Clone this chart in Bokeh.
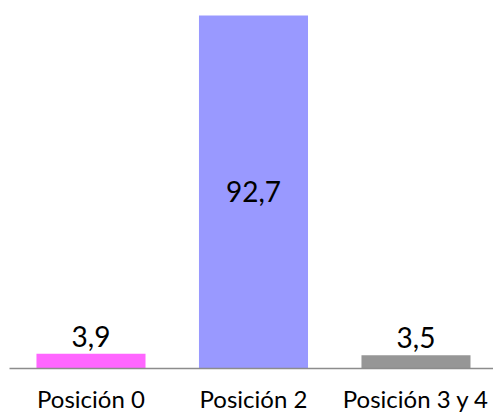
from bokeh.plotting import figure
from bokeh.models import ColumnDataSource, Range1d, FixedTicker
from bokeh.core.properties import value
from bokeh.embed import file_html
from bokeh.resources import INLINE

categories = ["Posición 0", "Posición 2", "Posición 3 y 4"]
values = [3.9, 92.7, 3.5]
colors = ["#FF66FF", "#9999FF", "#969696"]
labels = ["3,9", "92,7", "3,5"]
inside = [False, True, False]

FONT = "Lato"

xs = list(range(len(categories)))
src_bars = ColumnDataSource(dict(x=xs, top=values, color=colors))
out_src = ColumnDataSource(dict(
    x=[x for x, i in zip(xs, inside) if not i],
    y=[v for v, i in zip(values, inside) if not i],
    t=[l for l, i in zip(labels, inside) if not i]))
in_src = ColumnDataSource(dict(
    x=[x for x, i in zip(xs, inside) if i],
    y=[v / 2 for v, i in zip(values, inside) if i],
    t=[l for l, i in zip(labels, inside) if i]))

p = figure(width=493, height=415,
           x_range=Range1d(-0.5015, 2.477), y_range=Range1d(0, 94.53),
           output_backend="svg", toolbar_location=None,
           min_border_top=8, min_border_left=9, min_border_right=0, min_border_bottom=0)
p.outline_line_color = None
p.grid.grid_line_color = None
p.yaxis.visible = False
p.background_fill_color = "white"
p.border_fill_color = "white"

p.vbar(x="x", top="top", width=0.671, bottom=0, color="color", line_color=None, source=src_bars)

p.text(x="x", y="y", text="t", source=out_src, text_align="center", text_baseline="bottom",
       y_offset=-7, text_font=value(FONT), text_font_size="28px", text_color="black")
p.text(x="x", y="y", text="t", source=in_src, text_align="center", text_baseline="middle",
       text_font=value(FONT), text_font_size="28px", text_color="black")

ax = p.xaxis[0]
ax.ticker = FixedTicker(ticks=xs)
ax.major_label_overrides = {i: c for i, c in zip(xs, categories)}
ax.major_tick_line_color = None
ax.minor_tick_line_color = None
ax.major_tick_out = 0
ax.major_tick_in = 0
ax.axis_line_color = "#8c8c8c"
ax.axis_line_width = 1.5
ax.major_label_standoff = 15
ax.major_label_text_font = FONT
ax.major_label_text_font_size = "24px"
ax.major_label_text_color = "black"

open("out.html", "w").write(file_html(p, INLINE))
